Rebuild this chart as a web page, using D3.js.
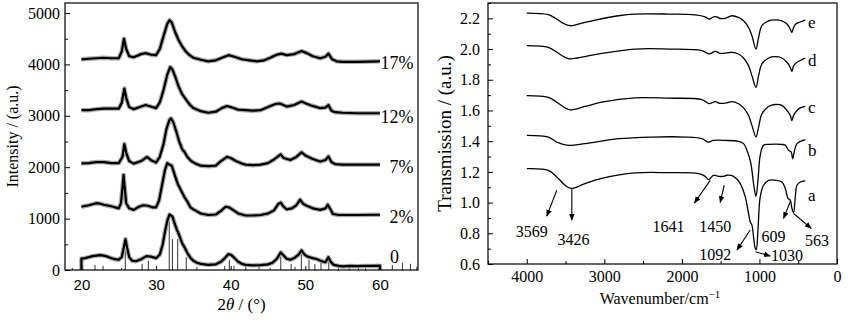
<!DOCTYPE html>
<html><head><meta charset="utf-8">
<script src="https://cdn.jsdelivr.net/npm/d3@7"></script>
<style>
body{margin:0;background:#fff;}
svg{display:block;font-family:"Liberation Serif","Times New Roman",serif;}
svg text{font-family:"Liberation Serif","Times New Roman",serif;}
svg text.sans{font-family:"Liberation Sans",Arial,sans-serif;}
</style></head>
<body><svg id="chart" width="850" height="325"></svg>
<script>
// ---------------- XRD data (left) ----------------
const xrdLabels = ["0", "2%", "7%", "12%", "17%"];
const xrd0 = [[20,0],[20,220],[20.5,230],[21,250],[21.5,270],[22,280],[22.5,290],[23,280],[23.5,260],[24,230],[24.5,210],[25,200],[25.4,250],[25.7,450],[25.9,600],[26.1,450],[26.4,250],[26.8,180],[27.3,170],[28,210],[28.7,270],[29.3,260],[30,230],[30.5,300],[30.9,500],[31.2,750],[31.5,950],[31.8,1080],[32.0,1060],[32.2,1040],[32.5,900],[32.8,780],[33.1,680],[33.5,520],[33.9,420],[34.2,330],[34.6,240],[35,180],[35.5,140],[36,120],[37,100],[38,110],[38.7,160],[39.2,230],[39.7,310],[40.1,290],[40.6,220],[41,160],[41.5,120],[42,100],[43,90],[44,95],[45,110],[45.6,140],[46.2,220],[46.7,340],[47.1,280],[47.5,220],[48,200],[48.6,240],[49.1,300],[49.5,380],[49.9,300],[50.3,260],[51,230],[51.6,210],[52.2,170],[52.7,150],[53.1,250],[53.4,160],[53.8,100],[54.5,80],[55,70],[56,80],[57,75],[58,80],[59,80],[60,85],[60,0]];
const xrd2 = [[20,1230],[21,1260],[22,1300],[22.5,1290],[23,1270],[24,1240],[25,1200],[25.3,1300],[25.5,1600],[25.65,1850],[25.8,1600],[26.0,1300],[26.4,1200],[27,1170],[27.7,1230],[28.3,1260],[28.9,1250],[29.5,1220],[30,1220],[30.4,1350],[30.8,1650],[31.2,1950],[31.5,2080],[31.8,2050],[32.1,2030],[32.5,1850],[32.9,1680],[33.3,1560],[33.8,1420],[34.2,1330],[34.6,1220],[35,1180],[36,1100],[37,1070],[38,1080],[38.7,1150],[39.3,1230],[39.8,1220],[40.5,1150],[41,1100],[42,1060],[43,1060],[44,1070],[45,1100],[45.8,1160],[46.4,1290],[46.7,1310],[47.1,1230],[47.5,1180],[48.2,1200],[48.8,1260],[49.3,1370],[49.7,1290],[50.2,1250],[51,1200],[52,1170],[52.7,1200],[53.0,1270],[53.3,1200],[53.7,1090],[54.5,1070],[55,1070],[57,1070],[60,1075]];
const xrd7 = [[20,2075],[21,2080],[22,2100],[23,2100],[24,2080],[25,2080],[25.5,2200],[25.75,2450],[26.0,2280],[26.4,2120],[27,2070],[28,2120],[28.8,2200],[29.4,2130],[30,2090],[30.5,2200],[31,2450],[31.4,2750],[31.8,2920],[32.0,2950],[32.3,2880],[32.7,2700],[33.1,2500],[33.5,2350],[33.8,2300],[34.2,2200],[34.7,2120],[35.3,2070],[36,2030],[37,2020],[38,2030],[38.7,2120],[39.5,2200],[40,2180],[40.7,2120],[41.5,2070],[42,2050],[43,2040],[44,2050],[45,2080],[45.8,2150],[46.7,2250],[47.1,2180],[48,2140],[48.8,2200],[49.5,2290],[50,2230],[51,2160],[52,2110],[52.7,2140],[53.1,2210],[53.5,2100],[54,2060],[55,2050],[57,2050],[60,2050]];
const xrd12 = [[20,3110],[21,3110],[22,3130],[23,3140],[24,3140],[25,3140],[25.4,3250],[25.75,3530],[26.0,3350],[26.4,3170],[27,3130],[28,3180],[28.6,3210],[29.3,3180],[30,3150],[30.5,3260],[31,3500],[31.5,3800],[31.9,3950],[32.2,3900],[32.6,3750],[33,3580],[33.5,3420],[34,3320],[34.5,3220],[35,3150],[36,3090],[37,3060],[38,3080],[38.8,3150],[39.5,3190],[40,3170],[41,3120],[42,3110],[43,3100],[44,3110],[45,3170],[46,3230],[46.6,3240],[47.5,3180],[48.5,3210],[49.5,3280],[50.1,3240],[50.8,3200],[52,3150],[52.7,3160],[53.1,3210],[53.5,3100],[54,3070],[55,3060],[57,3050],[60,3050]];
const xrd17 = [[20,4100],[21,4110],[22,4120],[23,4130],[24,4120],[25,4120],[25.4,4250],[25.7,4500],[26.0,4300],[26.4,4160],[27,4140],[28,4200],[28.6,4220],[29.3,4190],[30,4180],[30.5,4300],[31,4550],[31.5,4790],[31.8,4860],[32.1,4820],[32.5,4650],[33,4480],[33.5,4350],[34,4250],[34.5,4180],[35,4130],[36,4090],[37,4060],[38,4080],[39,4140],[39.7,4180],[40.5,4150],[41.5,4100],[42.5,4080],[43.5,4060],[44.5,4080],[45.3,4130],[46,4180],[46.8,4210],[47.5,4180],[48.5,4200],[49.5,4260],[50.2,4220],[51,4160],[52,4120],[52.7,4150],[53.1,4210],[53.6,4100],[54.2,4060],[55,4050],[57,4050],[60,4060]];
const xrdLabelPos = [[61.35,259,"start"],[64.5,1037,"end"],[64.5,2010,"end"],[64.5,2983,"end"],[64.5,4028,"end"]];
// reference pattern sticks [2θ, intensity]
const sticks = [[18.78,40],[21.82,100],[22.90,80],[25.38,40],[25.88,400],[28.13,120],[28.97,180],[31.77,1000],[32.20,600],[32.90,600],[34.05,250],[35.48,60],[39.20,80],[39.82,200],[40.45,80],[42.03,100],[43.80,80],[45.30,40],[46.71,300],[48.10,120],[48.62,60],[49.47,400],[50.49,200],[51.28,120],[52.10,160],[53.14,200],[54.44,40],[55.88,100],[57.13,60],[58.07,40],[60.0,60],[61.66,100],[63.01,140],[64.08,120],[64.94,60]];
const xrdXTicks = [20,30,40,50,60];
const xrdYTicks = [0,1000,2000,3000,4000,5000];
const xrdYMinor = [500,1500,2500,3500,4500];

// ---------------- FTIR data (right) ----------------
const irLabels = ["a","b","c","d","e"];
const irA = [[4000,1.221],[3721,1.210],[3613,1.167],[3506,1.113],[3428,1.092],[3248,1.124],[3033,1.157],[2603,1.193],[2173,1.195],[1785,1.189],[1699,1.171],[1656,1.150],[1592,1.178],[1527,1.171],[1463,1.171],[1419,1.178],[1334,1.171],[1248,1.124],[1183,1.037],[1141,0.929],[1119,0.875],[1097,0.853],[1076,0.777],[1054,0.702],[1041,0.693],[1019,0.821],[990,1.037],[947,1.113],[883,1.145],[796,1.145],[710,1.134],[667,1.092],[632,1.027],[603,1.016],[581,0.962],[560,0.933],[538,1.037],[516,1.113],[474,1.134],[409,1.141]];
const irB = [[4000,1.438],[3721,1.427],[3613,1.394],[3463,1.373],[3248,1.384],[2818,1.416],[2387,1.427],[1957,1.427],[1742,1.416],[1665,1.394],[1592,1.405],[1441,1.405],[1270,1.399],[1205,1.384],[1161,1.340],[1119,1.275],[1097,1.210],[1076,1.124],[1045,1.040],[1019,1.145],[990,1.308],[947,1.373],[883,1.379],[710,1.379],[667,1.373],[624,1.34],[590,1.329],[572,1.286],[547,1.34],[516,1.384],[409,1.410]];
const irC = [[4000,1.697],[3721,1.686],[3613,1.654],[3506,1.617],[3441,1.604],[3248,1.626],[3033,1.654],[2603,1.682],[2173,1.68],[1742,1.671],[1648,1.644],[1570,1.657],[1506,1.646],[1419,1.650],[1355,1.658],[1270,1.644],[1205,1.617],[1141,1.568],[1097,1.503],[1045,1.427],[1011,1.492],[968,1.578],[883,1.626],[796,1.639],[710,1.633],[645,1.60],[603,1.568],[581,1.535],[560,1.568],[516,1.600],[474,1.617],[409,1.626]];
const irD = [[4000,2.022],[3721,2.011],[3613,1.979],[3506,1.946],[3441,1.936],[3248,1.951],[3033,1.972],[2603,2.0],[2173,2.0],[1742,1.99],[1648,1.968],[1570,1.985],[1506,1.972],[1419,1.975],[1355,1.979],[1270,1.968],[1205,1.942],[1141,1.892],[1097,1.827],[1045,1.751],[1011,1.827],[968,1.903],[883,1.942],[796,1.951],[710,1.942],[645,1.914],[603,1.881],[581,1.855],[560,1.890],[516,1.914],[474,1.925],[409,1.942]];
const irE = [[4000,2.234],[3721,2.224],[3613,2.195],[3528,2.167],[3441,2.152],[3334,2.163],[3119,2.189],[2818,2.217],[2603,2.228],[2173,2.228],[1828,2.223],[1699,2.210],[1648,2.195],[1592,2.210],[1548,2.210],[1506,2.199],[1441,2.200],[1355,2.217],[1270,2.206],[1205,2.184],[1141,2.141],[1097,2.087],[1045,2.0],[1011,2.076],[968,2.152],[883,2.184],[796,2.19],[710,2.184],[645,2.163],[603,2.130],[581,2.108],[560,2.141],[538,2.160],[495,2.173],[409,2.189]];
const irLabelPos = [[375,1.050],[375,1.343],[375,1.625],[375,1.929],[375,2.178]];
const irXTicks = [4000,3000,2000,1000,0];
const irXMinor = [4500,3500,2500,1500,500];
const irYTicks = [0.6,0.8,1.0,1.2,1.4,1.6,1.8,2.0,2.2];
const irYMinor = [0.7,0.9,1.1,1.3,1.5,1.7,1.9,2.1,2.3];
// annotations: label, text [w,t], arrow from [w,t] to [w,t]
const irNotes = [
  ["3569",[3935,0.815],[3613,1.080],[3742,0.912]],
  ["3426",[3399,0.762],[3419,1.092],[3419,0.886]],
  ["1641",[2173,0.848],[1635,1.145],[1837,0.998]],
  ["1450",[1570,0.848],[1454,1.113],[1506,1.001]],
  ["1092",[1570,0.664],[1119,0.821],[1290,0.691]],
  ["1030",[645,0.653],[1054,0.680],[861,0.652]],
  ["609",[818,0.783],[603,1.005],[689,0.897]],
  ["563",[258,0.751],[560,0.929],[332,0.832]]
];

const svg = d3.select("#chart");
const defs = svg.append("defs");
defs.append("marker").attr("id","arr").attr("viewBox","0 0 10 10").attr("refX",9).attr("refY",5)
  .attr("markerWidth",7).attr("markerHeight",7).attr("markerUnits","userSpaceOnUse").attr("orient","auto")
  .append("path").attr("d","M0,1 L10,5 L0,9 Z").attr("fill","#000");

function styleAxis(a, cls){
  a.attr("font-family",null).attr("font-size",null);
  a.select(".domain").remove();
  a.selectAll(".tick line").attr("stroke","#000");
  a.selectAll("text").attr("class",cls||null).attr("font-size",16).attr("fill","#000");
}

// ---------- Left panel ----------
const L = {x0:65, x1:418, y0:3, y1:270};
const xL = d3.scaleLinear().domain([17.8, 65.1]).range([L.x0, L.x1]);
const yL = d3.scaleLinear().domain([0, 5195]).range([L.y1, L.y0]);
const gL = svg.append("g");
defs.append("clipPath").attr("id","clipL").append("rect")
  .attr("x",L.x0).attr("y",L.y0).attr("width",L.x1-L.x0).attr("height",L.y1-L.y0);

gL.append("g").attr("clip-path","url(#clipL)").selectAll("line.stick").data(sticks).join("line")
  .attr("x1",d=>xL(d[0])).attr("x2",d=>xL(d[0])).attr("y1",yL(0)).attr("y2",d=>yL(d[1]))
  .attr("stroke","#333").attr("stroke-width",1);

const lineL = d3.line().x(d=>xL(d[0])).y(d=>yL(d[1]));
const xrdSeries = [xrd0, xrd2, xrd7, xrd12, xrd17];
xrdSeries.forEach(s=>{
  gL.append("path").datum(s).attr("d",lineL).attr("fill","none").attr("stroke","#aaa").attr("stroke-width",4.5).attr("stroke-linejoin","round");
  gL.append("path").datum(s).attr("d",lineL).attr("fill","none").attr("stroke","#000").attr("stroke-width",2.2).attr("stroke-linejoin","round");
});

gL.append("rect").attr("x",L.x0).attr("y",L.y0).attr("width",L.x1-L.x0).attr("height",L.y1-L.y0)
  .attr("fill","none").attr("stroke","#000").attr("stroke-width",1.2);

const axLx = gL.append("g").attr("transform",`translate(0,${L.y1})`)
  .call(d3.axisBottom(xL).tickValues(xrdXTicks).tickSizeInner(-4).tickSizeOuter(0).tickPadding(9).tickFormat(d3.format("d")));
const axLy = gL.append("g").attr("transform",`translate(${L.x0},0)`)
  .call(d3.axisLeft(yL).tickValues(xrdYTicks).tickSizeInner(-5).tickSizeOuter(0).tickPadding(5).tickFormat(d3.format("d")));
const axLm = gL.append("g").attr("transform",`translate(${L.x0},0)`)
  .call(d3.axisLeft(yL).tickValues(xrdYMinor).tickSizeInner(-3).tickSizeOuter(0).tickFormat(""));
styleAxis(axLx, "sans"); styleAxis(axLy); styleAxis(axLm);
axLx.selectAll("text").attr("font-size",15);

gL.selectAll("text.slab").data(xrdLabels).join("text").attr("class","slab")
  .attr("x",(d,i)=>xL(xrdLabelPos[i][0])).attr("y",(d,i)=>yL(xrdLabelPos[i][1])).attr("dy","0.35em")
  .attr("text-anchor",(d,i)=>xrdLabelPos[i][2]).attr("font-size",18).text(d=>d);

gL.append("text").attr("transform",`translate(12,${(L.y0+L.y1)/2}) rotate(-90)`).attr("text-anchor","middle")
  .attr("dy","0.35em").attr("font-size",16).text("Intensity / (a.u.)");
const xt = gL.append("text").attr("x",(L.x0+L.x1)/2).attr("y",310).attr("text-anchor","middle").attr("font-size",17);
xt.append("tspan").text("2");
xt.append("tspan").attr("font-style","italic").text("θ");
xt.append("tspan").text(" / (°)");

// ---------- Right panel ----------
const R = {x0:488, x1:837, y0:3, y1:264};
const xR = d3.scaleLinear().domain([4500, 0]).range([R.x0, R.x1]);
const yR = d3.scaleLinear().domain([0.6, 2.3]).range([R.y1, R.y0]);
const gR = svg.append("g");
const lineR = d3.line().x(d=>xR(d[0])).y(d=>yR(d[1])).curve(d3.curveCatmullRom.alpha(0.5));
const irSeries = [irA, irB, irC, irD, irE];
irSeries.forEach(s=>{
  gR.append("path").datum(s).attr("d",lineR).attr("fill","none").attr("stroke","#000").attr("stroke-width",1.3);
});
gR.append("rect").attr("x",R.x0).attr("y",R.y0).attr("width",R.x1-R.x0).attr("height",R.y1-R.y0)
  .attr("fill","none").attr("stroke","#000").attr("stroke-width",1.2);
const axRx = gR.append("g").attr("transform",`translate(0,${R.y1})`)
  .call(d3.axisBottom(xR).tickValues(irXTicks).tickSizeInner(-5).tickSizeOuter(0).tickPadding(7).tickFormat(d3.format("d")));
const axRxm = gR.append("g").attr("transform",`translate(0,${R.y1})`)
  .call(d3.axisBottom(xR).tickValues(irXMinor).tickSizeInner(-3).tickSizeOuter(0).tickFormat(""));
const axRy = gR.append("g").attr("transform",`translate(${R.x0},0)`)
  .call(d3.axisLeft(yR).tickValues(irYTicks).tickSizeInner(-5).tickSizeOuter(0).tickPadding(8).tickFormat(d3.format(".1f")));
const axRym = gR.append("g").attr("transform",`translate(${R.x0},0)`)
  .call(d3.axisLeft(yR).tickValues(irYMinor).tickSizeInner(-3).tickSizeOuter(0).tickFormat(""));
[axRx, axRxm, axRy, axRym].forEach(a=>styleAxis(a));

gR.selectAll("text.slab").data(irLabels).join("text").attr("class","slab")
  .attr("x",(d,i)=>xR(irLabelPos[i][0])).attr("y",(d,i)=>yR(irLabelPos[i][1])).attr("dy","0.35em")
  .attr("font-size",17).text(d=>d);

irNotes.forEach(n=>{
  gR.append("line").attr("x1",xR(n[2][0])).attr("y1",yR(n[2][1])).attr("x2",xR(n[3][0])).attr("y2",yR(n[3][1]))
    .attr("stroke","#000").attr("stroke-width",1.1).attr("marker-end","url(#arr)");
  gR.append("text").attr("x",xR(n[1][0])).attr("y",yR(n[1][1])).attr("dy","0.35em").attr("text-anchor","middle")
    .attr("font-size",16).text(n[0]);
});

gR.append("text").attr("transform",`translate(444,${(R.y0+R.y1)/2}) rotate(-90)`).attr("text-anchor","middle")
  .attr("dy","0.35em").attr("font-size",19).text("Transmission / (a.u.)");
const wt = gR.append("text").attr("x",660).attr("y",304).attr("text-anchor","middle").attr("font-size",16);
wt.append("tspan").text("Wavenumber/cm");
wt.append("tspan").attr("font-size",11).attr("dy",-6).text("−1");
</script></body></html>
